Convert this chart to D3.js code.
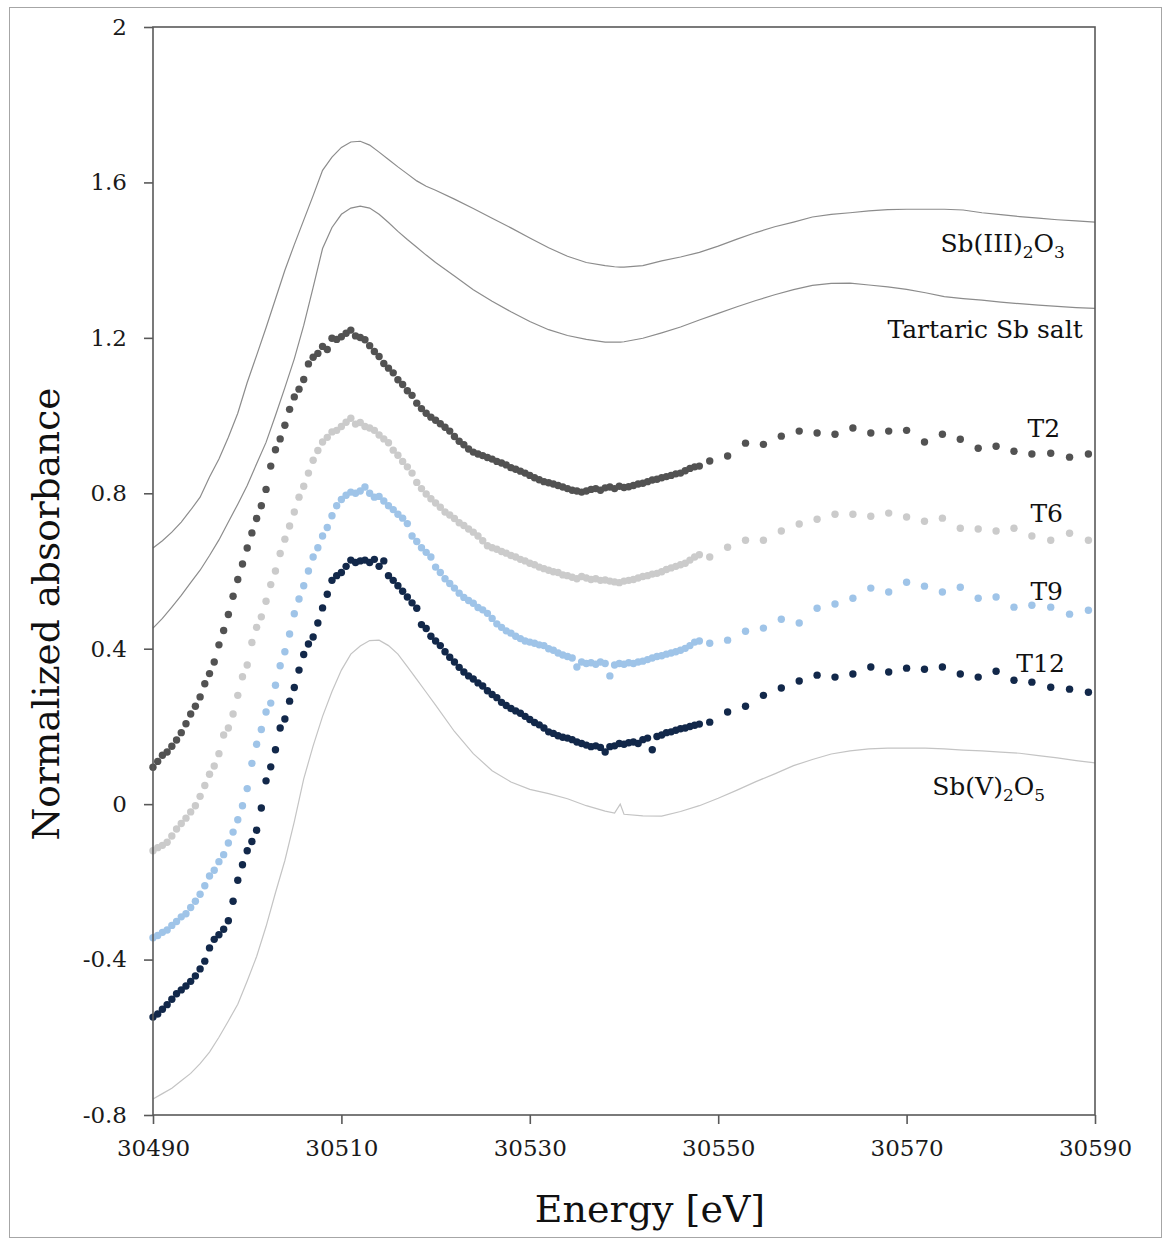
<!DOCTYPE html>
<html>
<head>
<meta charset="utf-8">
<script src="https://cdn.jsdelivr.net/npm/d3@7"></script>
<style>
body { margin: 0; background: #fff; }
text { font-family: "DejaVu Serif", serif; fill: #111; }
</style>
</head>
<body>
<svg id="chart" width="1166" height="1240"></svg>
<script>
const svgEl = document.getElementById('chart')
const width = +svgEl.getAttribute('width')
const height = +svgEl.getAttribute('height')
const svg = d3.select('#chart')

// ---- data ----
const xTicks = [30490, 30510, 30530, 30550, 30570, 30590]
const yTicks = [-0.8, -0.4, 0, 0.4, 0.8, 1.2, 1.6, 2]
const yTickLabels = ['-0.8', '-0.4', '0', '0.4', '0.8', '1.2', '1.6', '2']

// sampled energies for the measured samples (fine scan, then coarse scan)
const denseE = [
	30490, 30490.5, 30491, 30491.5, 30492, 30492.5, 30493, 30493.5, 30494, 30494.5,
	30495, 30495.5, 30496, 30496.5, 30497, 30497.5, 30498, 30498.5, 30499, 30499.5,
	30500, 30500.5, 30501, 30501.5, 30502, 30502.5, 30503, 30503.5, 30504, 30504.5,
	30505, 30505.5, 30506, 30506.5, 30507, 30507.5, 30508, 30508.5, 30509, 30509.5,
	30510, 30510.5, 30511, 30511.5, 30512, 30512.5, 30513, 30513.5, 30514, 30514.5,
	30515, 30515.5, 30516, 30516.5, 30517, 30517.5, 30518, 30518.5, 30519, 30519.5,
	30520, 30520.5, 30521, 30521.5, 30522, 30522.5, 30523, 30523.5, 30524, 30524.5,
	30525, 30525.5, 30526, 30526.5, 30527, 30527.5, 30528, 30528.5, 30529, 30529.5,
	30530, 30530.5, 30531, 30531.5, 30532, 30532.5, 30533, 30533.5, 30534, 30534.5,
	30535, 30535.5, 30536, 30536.5, 30537, 30537.5, 30538, 30538.5, 30539, 30539.5,
	30540, 30540.5, 30541, 30541.5, 30542, 30542.5, 30543, 30543.5, 30544, 30544.5,
	30545, 30545.5, 30546, 30546.5, 30547, 30547.5, 30548
]
const sparseE = [30549.1, 30551.0, 30552.9, 30554.8, 30556.7, 30558.6, 30560.5, 30562.4,
	30564.3, 30566.2, 30568.1, 30570.0, 30571.9, 30573.8, 30575.7, 30577.6, 30579.5,
	30581.4, 30583.3, 30585.3, 30587.3, 30589.3]
const sampleE = denseE.concat(sparseE)

const t2 = [
	0.095, 0.110, 0.126, 0.134, 0.149, 0.165, 0.184, 0.207, 0.232, 0.252,
	0.276, 0.310, 0.336, 0.366, 0.410, 0.447, 0.488, 0.535, 0.578, 0.618,
	0.659, 0.698, 0.735, 0.768, 0.810, 0.870, 0.912, 0.940, 0.975, 1.016,
	1.048, 1.068, 1.093, 1.133, 1.150, 1.160, 1.178, 1.170, 1.199, 1.196,
	1.203, 1.212, 1.220, 1.205, 1.201, 1.195, 1.180, 1.165, 1.152, 1.134,
	1.122, 1.110, 1.092, 1.080, 1.064, 1.052, 1.032, 1.018, 1.006, 0.996,
	0.988, 0.979, 0.970, 0.960, 0.946, 0.934, 0.925, 0.914, 0.906, 0.901,
	0.897, 0.892, 0.888, 0.882, 0.878, 0.873, 0.866, 0.862, 0.857, 0.852,
	0.846, 0.840, 0.835, 0.830, 0.827, 0.824, 0.820, 0.816, 0.812, 0.808,
	0.806, 0.803, 0.806, 0.810, 0.812, 0.808, 0.814, 0.816, 0.812, 0.818,
	0.815, 0.817, 0.820, 0.824, 0.826, 0.830, 0.834, 0.836, 0.840, 0.843,
	0.846, 0.850, 0.852, 0.858, 0.864, 0.868, 0.870,
	0.883, 0.896, 0.929, 0.926, 0.947, 0.960, 0.955, 0.952, 0.968, 0.955, 0.960,
	0.962, 0.932, 0.952, 0.939, 0.916, 0.921, 0.908, 0.901, 0.903, 0.893, 0.901
]
const t6 = [
	-0.120, -0.112, -0.106, -0.098, -0.082, -0.064, -0.050, -0.036, -0.020, -0.004,
	0.020, 0.048, 0.077, 0.098, 0.130, 0.178, 0.196, 0.232, 0.280, 0.328,
	0.358, 0.416, 0.455, 0.482, 0.522, 0.565, 0.600, 0.645, 0.682, 0.716,
	0.752, 0.790, 0.818, 0.852, 0.885, 0.910, 0.932, 0.944, 0.958, 0.962,
	0.972, 0.983, 0.993, 0.978, 0.982, 0.972, 0.968, 0.962, 0.950, 0.940,
	0.930, 0.911, 0.898, 0.882, 0.868, 0.852, 0.828, 0.812, 0.798, 0.786,
	0.775, 0.764, 0.752, 0.744, 0.735, 0.724, 0.717, 0.708, 0.700, 0.690,
	0.678, 0.665, 0.660, 0.656, 0.650, 0.646, 0.640, 0.636, 0.630, 0.626,
	0.620, 0.616, 0.610, 0.606, 0.602, 0.598, 0.596, 0.590, 0.588, 0.584,
	0.580, 0.586, 0.582, 0.578, 0.580, 0.576, 0.577, 0.574, 0.572, 0.570,
	0.574, 0.576, 0.578, 0.582, 0.586, 0.588, 0.592, 0.594, 0.598, 0.604,
	0.608, 0.612, 0.616, 0.620, 0.628, 0.636, 0.642,
	0.636, 0.661, 0.679, 0.679, 0.703, 0.721, 0.733, 0.746, 0.746, 0.741, 0.749,
	0.739, 0.728, 0.736, 0.710, 0.708, 0.703, 0.710, 0.690, 0.679, 0.697, 0.679
]
const t9 = [
	-0.344, -0.338, -0.330, -0.324, -0.312, -0.302, -0.290, -0.282, -0.266, -0.250,
	-0.232, -0.210, -0.185, -0.170, -0.148, -0.130, -0.100, -0.072, -0.040, -0.004,
	0.040, 0.105, 0.154, 0.192, 0.237, 0.260, 0.306, 0.356, 0.392, 0.438,
	0.490, 0.528, 0.562, 0.600, 0.636, 0.660, 0.690, 0.712, 0.742, 0.768,
	0.784, 0.795, 0.803, 0.800, 0.806, 0.816, 0.800, 0.790, 0.792, 0.780,
	0.768, 0.758, 0.746, 0.736, 0.722, 0.690, 0.676, 0.660, 0.648, 0.636,
	0.610, 0.596, 0.580, 0.568, 0.556, 0.543, 0.532, 0.524, 0.517, 0.506,
	0.500, 0.491, 0.478, 0.464, 0.455, 0.446, 0.440, 0.432, 0.426, 0.420,
	0.417, 0.414, 0.410, 0.408, 0.400, 0.396, 0.389, 0.384, 0.380, 0.376,
	0.353, 0.366, 0.362, 0.364, 0.360, 0.366, 0.362, 0.330, 0.358, 0.362,
	0.360, 0.364, 0.362, 0.366, 0.368, 0.372, 0.376, 0.380, 0.382, 0.386,
	0.389, 0.392, 0.396, 0.401, 0.408, 0.417, 0.420,
	0.414, 0.422, 0.445, 0.453, 0.476, 0.466, 0.504, 0.515, 0.530, 0.556, 0.546,
	0.571, 0.561, 0.546, 0.558, 0.530, 0.533, 0.507, 0.512, 0.507, 0.489, 0.499
]
const t12 = [
	-0.548, -0.540, -0.528, -0.516, -0.502, -0.488, -0.478, -0.468, -0.456, -0.442,
	-0.424, -0.404, -0.370, -0.348, -0.336, -0.322, -0.300, -0.250, -0.196, -0.156,
	-0.120, -0.096, -0.067, -0.010, 0.060, 0.096, 0.140, 0.196, 0.219, 0.265,
	0.300, 0.345, 0.385, 0.412, 0.430, 0.466, 0.505, 0.540, 0.576, 0.588,
	0.596, 0.612, 0.628, 0.622, 0.626, 0.628, 0.622, 0.630, 0.612, 0.626,
	0.588, 0.576, 0.562, 0.548, 0.533, 0.518, 0.504, 0.462, 0.452, 0.432,
	0.420, 0.408, 0.392, 0.378, 0.366, 0.352, 0.340, 0.330, 0.322, 0.312,
	0.304, 0.292, 0.282, 0.274, 0.262, 0.254, 0.246, 0.240, 0.234, 0.226,
	0.218, 0.210, 0.204, 0.196, 0.186, 0.182, 0.176, 0.172, 0.170, 0.166,
	0.160, 0.156, 0.152, 0.148, 0.150, 0.146, 0.134, 0.148, 0.150, 0.156,
	0.154, 0.158, 0.160, 0.156, 0.166, 0.170, 0.140, 0.174, 0.178, 0.184,
	0.186, 0.190, 0.194, 0.196, 0.200, 0.203, 0.206,
	0.211, 0.237, 0.252, 0.280, 0.299, 0.317, 0.332, 0.327, 0.335, 0.353, 0.340,
	0.350, 0.347, 0.353, 0.335, 0.327, 0.342, 0.319, 0.314, 0.301, 0.296, 0.288
]

// reference spectra (continuous lines)
const refE = [
	30490, 30491, 30492, 30493, 30494, 30495, 30496, 30497, 30498, 30499,
	30500, 30501, 30502, 30503, 30504, 30505, 30506, 30507, 30508, 30509,
	30510, 30511, 30512, 30513, 30514, 30515, 30516, 30517, 30518, 30519, 30520,
	30522, 30524, 30526, 30528, 30530, 30532, 30534, 30536, 30538,
	30539, 30539.6, 30540,
	30542, 30544, 30546, 30548, 30550, 30552, 30554, 30556, 30558, 30560, 30562, 30564,
	30566, 30568, 30570, 30572, 30574, 30576, 30578, 30580, 30582, 30584, 30586, 30588, 30590
]
const sb3 = [
	0.659, 0.678, 0.700, 0.726, 0.757, 0.790, 0.842, 0.888, 0.944, 1.006,
	1.085, 1.155, 1.226, 1.300, 1.374, 1.440, 1.503, 1.566, 1.631, 1.665,
	1.690, 1.704, 1.706, 1.696, 1.678, 1.659, 1.640, 1.622, 1.604, 1.590, 1.580,
	1.557, 1.533, 1.508, 1.483, 1.457, 1.432, 1.410, 1.394, 1.386,
	1.383, 1.382, 1.382,
	1.386, 1.398, 1.408, 1.420, 1.436, 1.454, 1.471, 1.486, 1.498, 1.511, 1.518, 1.522,
	1.527, 1.530, 1.531, 1.531, 1.531, 1.529, 1.522, 1.517, 1.512, 1.508, 1.504, 1.501, 1.498
]
const tartaric = [
	0.453, 0.478, 0.507, 0.537, 0.570, 0.602, 0.640, 0.680, 0.726, 0.772,
	0.820, 0.876, 0.931, 1.000, 1.072, 1.146, 1.232, 1.330, 1.430, 1.484,
	1.518, 1.534, 1.539, 1.534, 1.518, 1.497, 1.474, 1.453, 1.433, 1.413, 1.394,
	1.359, 1.324, 1.294, 1.267, 1.242, 1.221, 1.206, 1.196, 1.189,
	1.189, 1.189, 1.190,
	1.199, 1.213, 1.228, 1.246, 1.263, 1.280, 1.296, 1.311, 1.324, 1.335, 1.340, 1.341,
	1.336, 1.331, 1.325, 1.316, 1.306, 1.301, 1.297, 1.292, 1.288, 1.284, 1.281, 1.278, 1.276
]
const sb5 = [
	-0.759, -0.745, -0.731, -0.712, -0.693, -0.668, -0.638, -0.600, -0.558, -0.515,
	-0.455, -0.392, -0.315, -0.228, -0.145, -0.045, 0.065, 0.150, 0.226, 0.290,
	0.345, 0.386, 0.407, 0.421, 0.422, 0.408, 0.386, 0.354, 0.321, 0.288, 0.255,
	0.187, 0.130, 0.086, 0.057, 0.038, 0.027, 0.014, -0.004, -0.018,
	-0.023, 0.000, -0.026,
	-0.030, -0.031, -0.019, -0.004, 0.015, 0.036, 0.058, 0.078, 0.099, 0.115, 0.129, 0.137,
	0.142, 0.144, 0.144, 0.144, 0.142, 0.139, 0.137, 0.134, 0.131, 0.125, 0.119, 0.112, 0.106
]

const lineSeries = [
	{ name: 'sb3', values: sb3, color: '#8c8c8c' },
	{ name: 'tartaric', values: tartaric, color: '#8c8c8c' },
	{ name: 'sb5', values: sb5, color: '#c4c4c4' }
]
const dotSeries = [
	{ name: 'T2', values: t2, color: '#525252' },
	{ name: 'T6', values: t6, color: '#cbcbcb' },
	{ name: 'T9', values: t9, color: '#9fc4e8' },
	{ name: 'T12', values: t12, color: '#12284a' }
]

// labels: [text, subscript flag], anchored by their right end in data units
const labels = [
	{ parts: [['Sb(III)', 0], ['2', 1], ['O', 0], ['3', 1]], e: 30586.8, v: 1.42 },
	{ parts: [['Tartaric Sb salt', 0]], e: 30588.7, v: 1.199 },
	{ parts: [['T2', 0]], e: 30586.3, v: 0.944 },
	{ parts: [['T6', 0]], e: 30586.6, v: 0.726 },
	{ parts: [['T9', 0]], e: 30586.6, v: 0.525 },
	{ parts: [['T12', 0]], e: 30586.8, v: 0.34 },
	{ parts: [['Sb(V)', 0], ['2', 1], ['O', 0], ['5', 1]], e: 30584.7, v: 0.023 }
]

// ---- layout ----
const plotLeft = 153, plotRight = 1095, plotTop = 27, plotBottom = 1115
const axisColor = '#595959'

const xScale = d3.scaleLinear().domain([30490, 30590]).range([plotLeft, plotRight])
const yScale = d3.scaleLinear().domain([-0.8, 2]).range([plotBottom, plotTop])

// outer border of the figure
svg.append('rect')
	.attr('x', 9.5).attr('y', 7.5)
	.attr('width', width - 14).attr('height', height - 10)
	.attr('fill', 'none')
	.attr('stroke', '#a6a6a6')
	.attr('stroke-width', 1)

// reference lines
const line = d3.line()
	.x((d, i) => xScale(refE[i]))
	.y(d => yScale(d))

svg.append('g')
	.selectAll('path')
	.data(lineSeries)
	.enter()
	.append('path')
	.attr('d', d => line(d.values))
	.attr('fill', 'none')
	.attr('stroke', d => d.color)
	.attr('stroke-width', 1.2)

// sample dots
dotSeries.forEach(s => {
	svg.append('g')
		.selectAll('circle')
		.data(s.values)
		.enter()
		.append('circle')
		.attr('cx', (d, i) => xScale(sampleE[i]))
		.attr('cy', d => yScale(d))
		.attr('r', 3.7)
		.attr('fill', s.color)
})

// plot frame
svg.append('rect')
	.attr('x', plotLeft).attr('y', plotTop)
	.attr('width', plotRight - plotLeft).attr('height', plotBottom - plotTop)
	.attr('fill', 'none')
	.attr('stroke', axisColor)
	.attr('stroke-width', 1.6)

// axes
const xAxis = d3.axisBottom(xScale)
	.tickValues(xTicks)
	.tickFormat(d3.format('d'))
	.tickSize(9)
	.tickSizeOuter(0)
	.tickPadding(16)

const yAxis = d3.axisLeft(yScale)
	.tickValues(yTicks)
	.tickFormat((d, i) => yTickLabels[i])
	.tickSize(9)
	.tickSizeOuter(0)
	.tickPadding(17)

svg.append('g')
	.attr('transform', `translate(0, ${plotBottom})`)
	.call(xAxis)
svg.append('g')
	.attr('transform', `translate(${plotLeft}, 0)`)
	.call(yAxis)

svg.selectAll('path.domain').style('stroke-width', 0)
svg.selectAll('.tick line')
	.style('stroke', axisColor)
	.style('stroke-width', 1.6)
svg.selectAll('.tick text')
	.style('font-family', '"DejaVu Serif", serif')
	.style('font-size', '23px')
	.style('fill', '#1a1a1a')

// axis titles
svg.append('text')
	.attr('x', 650)
	.attr('y', 1222)
	.attr('text-anchor', 'middle')
	.style('font-size', '38px')
	.text('Energy [eV]')

svg.append('text')
	.attr('transform', `translate(46, 614) rotate(-90)`)
	.attr('text-anchor', 'middle')
	.attr('dominant-baseline', 'central')
	.style('font-size', '37.5px')
	.text('Normalized absorbance')

// series labels
labels.forEach(l => {
	const t = svg.append('text')
		.attr('x', xScale(l.e))
		.attr('y', yScale(l.v))
		.attr('text-anchor', 'end')
		.style('font-size', '25px')
	let shifted = false
	l.parts.forEach(p => {
		const ts = t.append('tspan').text(p[0])
		if (p[1]) {
			ts.style('font-size', '17px')
			if (!shifted) { ts.attr('dy', 6); shifted = true }
		} else if (shifted) {
			ts.attr('dy', -6); shifted = false
		}
	})
})
</script>
</body>
</html>
